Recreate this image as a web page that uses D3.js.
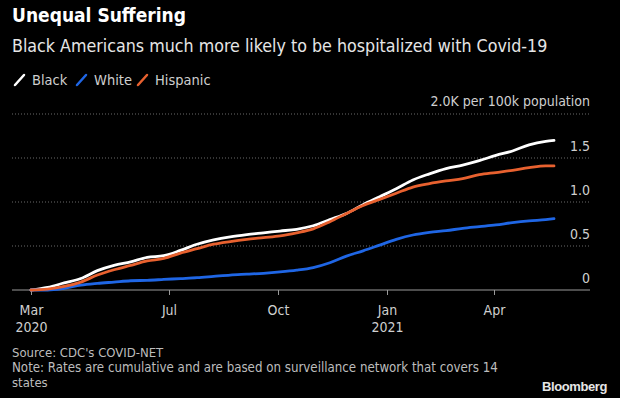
<!DOCTYPE html>
<html>
<head>
<meta charset="utf-8">
<script src="https://cdn.jsdelivr.net/npm/d3@7"></script>
<style>
  html, body { margin: 0; padding: 0; background: #000; }
  svg { display: block; }
</style>
</head>
<body>
<svg id="chart" width="620" height="398"></svg>
<script>
/* data, cumulative hospitalizations (K per 100k) */
const dates = ["2020-03-07","2020-03-21","2020-04-04","2020-04-18","2020-05-02","2020-05-16",
  "2020-05-30","2020-06-13","2020-06-27","2020-07-11","2020-07-25","2020-08-08","2020-08-22",
  "2020-09-05","2020-09-19","2020-10-03","2020-10-17","2020-10-31","2020-11-14","2020-11-28",
  "2020-12-12","2020-12-26","2021-01-09","2021-01-23","2021-02-06","2021-02-20","2021-03-06",
  "2021-03-20","2021-04-03","2021-04-17","2021-05-01","2021-05-15","2021-05-22"];
const black    = [0, 0.03, 0.08, 0.13, 0.22, 0.28, 0.32, 0.37, 0.39, 0.45, 0.52, 0.57, 0.605,
  0.63, 0.65, 0.67, 0.69, 0.73, 0.80, 0.87, 0.97, 1.06, 1.15, 1.25, 1.32, 1.38, 1.42, 1.47,
  1.53, 1.58, 1.65, 1.69, 1.70];
const white    = [0, 0.0, 0.02, 0.055, 0.075, 0.09, 0.105, 0.11, 0.12, 0.13, 0.14, 0.155, 0.17,
  0.18, 0.19, 0.205, 0.225, 0.255, 0.31, 0.385, 0.445, 0.51, 0.575, 0.625, 0.655, 0.675, 0.70,
  0.72, 0.74, 0.765, 0.785, 0.80, 0.81];
const hispanic = [0, 0.01, 0.04, 0.09, 0.17, 0.23, 0.28, 0.33, 0.36, 0.42, 0.47, 0.52, 0.55,
  0.575, 0.595, 0.615, 0.65, 0.695, 0.776, 0.87, 0.96, 1.03, 1.10, 1.17, 1.21, 1.24, 1.265,
  1.31, 1.335, 1.36, 1.39, 1.41, 1.41];
const yTicks = [0, 0.5, 1.0, 1.5, 2.0];
const xTicks = ["2020-03-07","2020-07-01","2020-10-01","2021-01-01","2021-04-01"];
const xTickLabels = [["Mar","2020"],["Jul"],["Oct"],["Jan","2021"],["Apr"]];

const FONT = "'Liberation Sans Narrow', 'DejaVu Sans Condensed', sans-serif";
const parse = d3.utcParse("%Y-%m-%d");
const svg = d3.select("#chart");

const x = d3.scaleUtc()
  .domain([parse(dates[0]), parse(dates[dates.length - 1])])
  .range([31, 554]);
const y = d3.scaleLinear().domain([0, 2]).range([290, 114]);

// titles
svg.append("text").attr("x", 12).attr("y", 22)
  .attr("fill", "#fff").attr("font-family", FONT).attr("font-weight", 700)
  .attr("font-size", 19).text("Unequal Suffering");
svg.append("text").attr("x", 12).attr("y", 52)
  .attr("fill", "#e6e6e6").attr("font-family", FONT)
  .attr("font-size", 17.7).text("Black Americans much more likely to be hospitalized with Covid-19");

// legend
const series = [
  { name: "Black", values: black, color: "#ffffff" },
  { name: "White", values: white, color: "#1f66e5" },
  { name: "Hispanic", values: hispanic, color: "#e8612f" },
];
const legendX = [15, 77, 138];
series.forEach((s, i) => {
  const lx = legendX[i];
  svg.append("line").attr("x1", lx).attr("y1", 85).attr("x2", lx + 9).attr("y2", 75)
    .attr("stroke", s.color).attr("stroke-width", 2.5).attr("stroke-linecap", "round");
  svg.append("text").attr("x", lx + 17).attr("y", 85)
    .attr("fill", "#cfcfcf").attr("font-family", FONT).attr("font-size", 14.5).text(s.name);
});

svg.append("text").attr("x", 590).attr("y", 106).attr("text-anchor", "end")
  .attr("fill", "#cfcfcf").attr("font-family", FONT).attr("font-size", 14)
  .text("2.0K per 100k population");

// grid + y labels
const grid = svg.append("g");
yTicks.filter(v => v > 0).forEach(v => {
  grid.append("line").attr("x1", 12).attr("x2", 590).attr("y1", y(v)).attr("y2", y(v))
    .attr("stroke", "#6a6a6a").attr("stroke-width", 1).attr("stroke-dasharray", "1,2");
});
yTicks.filter(v => v < 2).forEach(v => {
  grid.append("text").attr("x", 590).attr("y", y(v) - 7).attr("text-anchor", "end")
    .attr("fill", "#cfcfcf").attr("font-family", FONT).attr("font-size", 14)
    .text(v === 0 ? "0" : d3.format(".1f")(v));
});

// x axis
svg.append("line").attr("x1", 12).attr("x2", 590).attr("y1", y(0)).attr("y2", y(0))
  .attr("stroke", "#9a9a9a").attr("stroke-width", 1.2);
xTicks.forEach((t, i) => {
  const tx = Math.round(x(parse(t))) + 0.5;
  svg.append("line").attr("x1", tx).attr("x2", tx).attr("y1", y(0)).attr("y2", y(0) + 5)
    .attr("stroke", "#9a9a9a").attr("stroke-width", 1);
  xTickLabels[i].forEach((lab, j) => {
    svg.append("text").attr("x", tx).attr("y", 315 + j * 17).attr("text-anchor", "middle")
      .attr("fill", "#cfcfcf").attr("font-family", FONT).attr("font-size", 14).text(lab);
  });
});

// lines
const line = d3.line()
  .x((d, i) => x(parse(dates[i])))
  .y(d => y(d))
  .curve(d3.curveMonotoneX);
series.forEach(s => {
  svg.append("path").datum(s.values).attr("d", line)
    .attr("fill", "none").attr("stroke", s.color).attr("stroke-width", 2.8)
    .attr("stroke-linejoin", "round").attr("stroke-linecap", "round");
});

// footer
svg.append("text").attr("x", 12).attr("y", 357)
  .attr("fill", "#bdbdbd").attr("font-family", FONT).attr("font-size", 13)
  .text("Source: CDC's COVID-NET");
svg.append("text").attr("x", 12).attr("y", 372)
  .attr("fill", "#bdbdbd").attr("font-family", FONT).attr("font-size", 13.2)
  .text("Note: Rates are cumulative and are based on surveillance network that covers 14");
svg.append("text").attr("x", 12).attr("y", 387)
  .attr("fill", "#bdbdbd").attr("font-family", FONT).attr("font-size", 13)
  .text("states");
svg.append("text").attr("x", 607).attr("y", 391).attr("text-anchor", "end")
  .attr("fill", "#e6e6e6").attr("font-family", "'Liberation Sans', Arial, sans-serif")
  .attr("font-weight", 700).attr("font-size", 13).attr("letter-spacing", -0.4)
  .text("Bloomberg");
</script>
</body>
</html>
